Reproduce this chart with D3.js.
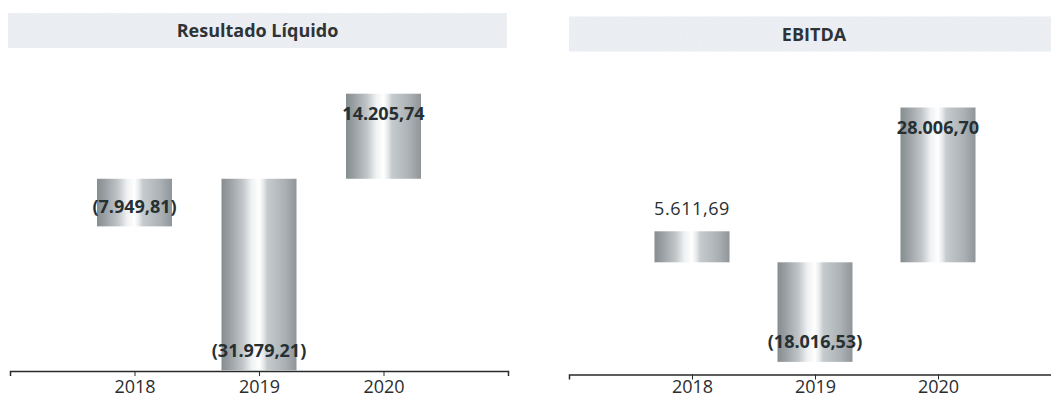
<!DOCTYPE html>
<html>
<head>
<meta charset="utf-8">
<script src="https://cdn.jsdelivr.net/npm/d3@7"></script>
<style>
  html, body { margin: 0; padding: 0; background: #fff; }
  svg { display: block; font-family: "Open Sans", "DejaVu Sans", sans-serif; }
</style>
</head>
<body>
<script>
"use strict";
// data (R$ mil)
const years = ["2018", "2019", "2020"];
const resultadoLiquido = [-7949.81, -31979.21, 14205.74];
const ebitda = [5611.69, -18016.53, 28006.70];
const resultadoDomain = [-32100, 20000];
const ebitdaDomain = [-20300, 30000];

const W = 1051, H = 400;
const svg = d3.select("body").append("svg").attr("width", W).attr("height", H);

const ptBR = d3.formatLocale({decimal: ",", thousands: ".", grouping: [3], currency: ["R$", ""]});
const fmt = ptBR.format(",.2f");
function label(v) {
	return v < 0 ? "(" + fmt(-v) + ")" : fmt(v);
}

// cylinder-like grey gradient used on every bar
const defs = svg.append("defs");
const grad = defs.append("linearGradient").attr("id", "barGrad").attr("x1", "0%").attr("x2", "100%").attr("y1", "0%").attr("y2", "0%");
[["0%", "#868d91"], ["10%", "#989ea2"], ["28%", "#c1c5c8"], ["40%", "#eff1f2"], ["50%", "#ffffff"], ["56%", "#e6e9eb"], ["61%", "#c6cbce"], ["85%", "#aab0b3"], ["100%", "#8f9598"]]
	.forEach(s => grad.append("stop").attr("offset", s[0]).attr("stop-color", s[1]));
const noise = defs.append("filter").attr("id", "grain").attr("x", 0).attr("y", 0).attr("width", 1).attr("height", 1);
noise.append("feTurbulence").attr("type", "fractalNoise").attr("baseFrequency", 0.9).attr("numOctaves", 1).attr("result", "n");
noise.append("feColorMatrix").attr("in", "n").attr("type", "matrix")
	.attr("values", "0 0 0 0 0.6  0 0 0 0 0.65  0 0 0 0 0.75  0 0 0 0.3 0").attr("result", "c");
noise.append("feComposite").attr("in", "c").attr("in2", "SourceGraphic").attr("operator", "in").attr("result", "m");
noise.append("feMerge").selectAll("feMergeNode").data(["SourceGraphic", "m"]).enter().append("feMergeNode").attr("in", d => d);

function panel(title, values, domain, lay) {
	const g = svg.append("g").attr("transform", "translate(0," + lay.dy + ")");
	g.append("rect")
		.attr("x", lay.band[0]).attr("y", 13)
		.attr("width", lay.band[1] - lay.band[0]).attr("height", 35)
		.attr("fill", "#f0f2f5").attr("filter", "url(#grain)");
	g.append("text")
		.attr("x", (lay.band[0] + lay.band[1]) / 2 + lay.titleShift)
		.attr("y", 31).attr("dy", "0.35em")
		.attr("text-anchor", "middle")
		.attr("font-size", 18).attr("font-weight", "bold").attr("fill", "#2e3336")
		.text(title);

	const x = d3.scalePoint().domain(years).range(lay.axis).padding(1);
	const y = d3.scaleLinear().domain(domain).range([371, lay.top]);
	const bw = 75;

	g.selectAll("rect.bar")
		.data(values)
		.enter()
		.append("rect")
		.attr("class", "bar")
		.attr("x", (d, i) => x(years[i]) - bw / 2)
		.attr("y", d => Math.min(y(0), y(d)))
		.attr("width", bw)
		.attr("height", d => Math.abs(y(d) - y(0)))
		.attr("fill", "url(#barGrad)");

	const short = d => Math.abs(y(d) - y(0)) < 40;
	g.selectAll("text.val")
		.data(values)
		.enter()
		.append("text")
		.attr("class", "val")
		.attr("x", (d, i) => x(years[i]))
		.attr("y", d => {
			const dir = d < 0 ? 1 : -1;
			// short bars get the label outside, others inside near the end
			return short(d) ? y(d) + dir * 23 : y(d) - dir * 20;
		})
		.attr("dy", "0.35em")
		.attr("text-anchor", "middle")
		.attr("font-size", 18)
		.attr("font-weight", d => short(d) ? "normal" : "bold")
		.attr("letter-spacing", d => short(d) ? "0.6px" : "0")
		.attr("fill", "#263033")
		.text(label);

	const axis = d3.axisBottom(x).tickSize(5).tickSizeOuter(5).tickPadding(lay.pad);
	const ax = g.append("g").attr("transform", "translate(0,371)").call(axis);
	ax.select(".domain").attr("stroke", "#2a2a2a").attr("stroke-width", 1.5);
	ax.selectAll(".tick line").attr("stroke", "#2a2a2a");
	ax.selectAll(".tick text").attr("font-size", 18).attr("fill", "#2a2d30").attr("font-family", "\"Open Sans\", sans-serif");
}

panel("Resultado Líquido", resultadoLiquido, resultadoDomain, {dy: 0, band: [8, 507], axis: [10, 508], top: 59, titleShift: 0, pad: 4});
panel("EBITDA", ebitda, ebitdaDomain, {dy: 3.5, band: [569, 1051], axis: [569, 1061], top: 93, titleShift: 4, pad: 1});
</script>
</body>
</html>
